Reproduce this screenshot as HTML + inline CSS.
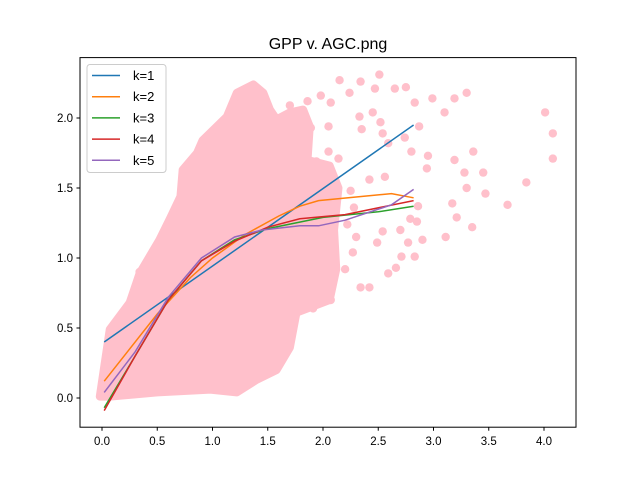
<!DOCTYPE html>
<html><head><meta charset="utf-8"><style>
body{margin:0;background:#fff}
svg{font-family:"Liberation Sans","DejaVu Sans",sans-serif}
</style></head><body>
<svg id="chart" width="640" height="480" viewBox="0 0 640 480" xmlns="http://www.w3.org/2000/svg">
<rect width="640" height="480" fill="#fff"/>
<text x="328" y="49" font-size="16" text-anchor="middle" fill="#000">GPP v. AGC.png</text>
<g id="plot"></g>
<rect x="80" y="57.6" width="496" height="369.6" fill="none" stroke="#000" stroke-width="1"/>
<g id="axes"></g>
<g id="legend"></g>
</svg>
<script>
const xTicks=[0.0,0.5,1.0,1.5,2.0,2.5,3.0,3.5,4.0];
const yTicks=[0.0,0.5,1.0,1.5,2.0];
const cloudX=[-0.02,0.07,0.25,0.34,0.52,0.62,0.71,0.73,0.86,0.91,1.13,1.22,1.37,1.46,1.52,1.58,1.70,1.82,1.88,1.86,2.06,2.14,2.10,2.12,2.06,1.76,1.70,1.58,1.40,1.22,0.98,0.50,0.07];
const cloudY=[0.01,0.49,0.68,0.89,1.13,1.29,1.44,1.63,1.75,1.84,2.01,2.18,2.24,2.18,2.06,1.99,2.04,2.06,1.94,1.70,1.66,1.50,1.20,0.92,0.70,0.61,0.36,0.20,0.13,0.04,0.06,0.04,0.01];
const ptX=[2.15,2.34,2.51,2.47,2.65,2.75,2.24,1.98,1.86,2.07,2.83,2.99,3.19,3.30,3.10,4.01,4.08,4.08,2.45,2.33,2.52,2.35,2.05,1.89,2.87,2.54,2.74,2.59,2.80,2.95,3.36,3.19,2.94,3.28,3.45,3.84,3.30,3.47,3.17,3.67,2.86,3.21,3.35,3.11,2.90,2.77,2.85,2.79,2.70,2.54,2.49,2.27,2.71,2.83,2.66,2.59,2.42,2.34,2.07,1.91,2.05,2.56,2.42,2.14,2.05,1.94,1.70,0.69,0.34,0.27,0.36,2.25,2.28,2.22,2.30,2.20];
const ptY=[2.27,2.26,2.31,2.21,2.21,2.22,2.18,2.16,2.12,2.11,2.11,2.14,2.14,2.18,2.04,2.04,1.89,1.71,2.04,2.01,1.97,1.92,1.94,1.93,1.94,1.89,1.86,1.82,1.76,1.73,1.76,1.70,1.64,1.61,1.61,1.54,1.50,1.46,1.39,1.38,1.37,1.29,1.22,1.15,1.13,1.11,1.26,1.28,1.20,1.19,1.11,1.04,1.01,1.01,0.93,0.89,0.79,0.79,0.70,0.64,0.77,1.58,1.56,1.71,1.76,1.69,2.09,1.36,0.90,0.16,0.20,1.48,1.36,1.24,1.15,0.92];
const k1X=[0.02,2.82], k1Y=[0.40,1.95];
const k2X=[0.02,0.5,0.8,1.0,1.3,1.6,1.79,1.96,2.62,2.82], k2Y=[0.12,0.6,0.86,1.0,1.17,1.3,1.37,1.41,1.46,1.43];
const k3X=[0.02,0.3,0.6,0.9,1.2,1.5,2.0,2.5,2.82], k3Y=[-0.07,0.3,0.7,0.98,1.13,1.21,1.29,1.33,1.37];
const k4X=[0.02,0.3,0.6,0.9,1.2,1.5,1.79,2.2,2.82], k4Y=[-0.09,0.3,0.7,0.98,1.12,1.22,1.28,1.31,1.41];
const k5X=[0.02,0.3,0.6,0.9,1.2,1.45,1.79,1.96,2.2,2.62,2.82], k5Y=[0.04,0.33,0.72,1.0,1.15,1.2,1.23,1.23,1.27,1.38,1.49];
const labels=["k=1","k=2","k=3","k=4","k=5"];
const colors=["#1f77b4","#ff7f0e","#2ca02c","#d62728","#9467bd"];

const NS="http://www.w3.org/2000/svg";
const sx=v=>102+110.5*v;
const sy=v=>398-140*v;
function mk(t,attrs,parent){const e=document.createElementNS(NS,t);for(const k in attrs)e.setAttribute(k,attrs[k]);parent.appendChild(e);return e;}
const plot=document.getElementById('plot'), axes=document.getElementById('axes'), leg=document.getElementById('legend');

const cloud=mk('polygon',{points:cloudX.map((x,i)=>sx(x)+','+sy(cloudY[i])).join(' '),fill:'#ffc0cb',stroke:'#ffc0cb','stroke-width':8,'stroke-linejoin':'round'},plot);


ptX.forEach((x,i)=>{
  const c=mk('circle',{cx:sx(x),cy:sy(ptY[i]),r:4.2,fill:'#ffc0cb'},plot);
  
  
});
const series=[[k1X,k1Y],[k2X,k2Y],[k3X,k3Y],[k4X,k4Y],[k5X,k5Y]];
series.forEach((s,j)=>{
  const p=mk('polyline',{points:s[0].map((x,i)=>sx(x)+','+sy(s[1][i])).join(' '),fill:'none',stroke:colors[j],'stroke-width':1.5},plot);
  
  
});
xTicks.forEach(v=>{
  mk('line',{x1:sx(v),x2:sx(v),y1:427.2,y2:430.7,stroke:'#000'},axes);
  const t=mk('text',{x:sx(v),y:445,'font-size':'11.5','text-anchor':'middle'},axes);
  t.textContent=v.toFixed(1);
  
  
});
yTicks.forEach(v=>{
  mk('line',{x1:76.5,x2:80,y1:sy(v),y2:sy(v),stroke:'#000'},axes);
  const t=mk('text',{x:73,y:sy(v)+4,'font-size':'11.5','text-anchor':'end'},axes);
  t.textContent=v.toFixed(1);
  
  
});
const box=mk('rect',{x:87,y:64.5,width:79,height:108,rx:3,fill:'#fff','fill-opacity':0.8,stroke:'#ccc'},leg);


labels.forEach((l,j)=>{
  const y=75.5+21.2*j;
  mk('line',{x1:92,x2:120,y1:y,y2:y,stroke:colors[j],'stroke-width':1.5},leg);
  const t=mk('text',{x:133,y:y+4.5,'font-size':'13'},leg);
  t.textContent=l;
  
  
});
</script>
</body></html>
